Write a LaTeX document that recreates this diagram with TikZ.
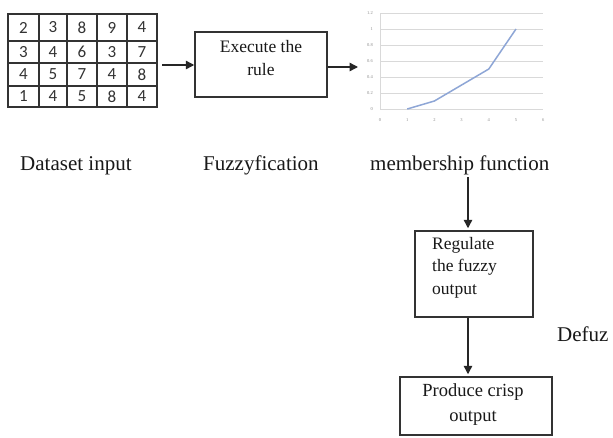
\documentclass[tikz,border=0pt]{standalone}
\usepackage{fontspec}
\setmainfont{Liberation Serif}
\newfontfamily\digitfont{Carlito}
\usetikzlibrary{arrows.meta}
\definecolor{inkgray}{HTML}{333333}
\definecolor{gridgray}{HTML}{D9D9D9}
\definecolor{curveblue}{HTML}{8EA6D6}
\tikzset{
  flowbox/.style={draw=inkgray, line width=1.5pt, inner sep=0pt},
  flowarrow/.style={draw=black!85, line width=1.4pt, -{Triangle[length=8.5pt,width=8.5pt]}},
  caption/.style={font=\fontsize{21}{23}\selectfont, text=black!90, inner sep=0pt, anchor=base west},
  boxtext/.style={font=\fontsize{17.5}{22.5}\selectfont, text=black!90, inner sep=0pt, align=center},
  cell/.style={font=\digitfont\fontsize{17}{17}\selectfont, text=black!80, inner sep=0pt},
  ticklabel/.style={font=\fontsize{4.5}{5}\selectfont, text=black!45, inner sep=0pt},
}
\begin{document}
\begin{tikzpicture}[x=1pt,y=-1pt]
\useasboundingbox (0,0) rectangle (613,437);
\fill[white] (0,0) rectangle (613,437);

% ---- data table ----
\node[flowbox, minimum width=149pt, minimum height=93pt] (grid) at (82.5,60.5) {};
\foreach \gx in {39,67,97,127} \draw[inkgray, line width=1.5pt] (\gx,14) -- (\gx,107);
\foreach \gy in {41,63,86} \draw[inkgray, line width=1.5pt] (8,\gy) -- (157,\gy);
\foreach \v/\cx in {2/23.5,3/53,8/82,9/112,4/142} \node[cell] (ra\v\cx) at (\cx,27.5) {\v};
\foreach \v/\cx in {3/23.5,4/53,6/82,3/112,7/142} \node[cell] (rb\v\cx) at (\cx,52) {\v};
\foreach \v/\cx in {4/23.5,5/53,7/82,4/112,8/142} \node[cell] (rc\v\cx) at (\cx,74.5) {\v};
\foreach \v/\cx in {1/23.5,4/53,5/82,8/112,4/142} \node[cell] (rd\v\cx) at (\cx,96.5) {\v};

% ---- rule box ----
\node[flowbox, minimum width=132pt, minimum height=65pt] (exec) at (261,64.5) {};
\node[boxtext] (exectxt) at (261,58) {Execute the\\rule};

% ---- membership chart ----
\foreach \k in {0,...,6} {
  \draw[gridgray, line width=0.6pt] (380,{109-\k*16}) -- (543,{109-\k*16});
}
\draw[gridgray, line width=0.6pt] (380,13) -- (380,109);
\foreach \lab/\k in {0/0,0.2/1,0.4/2,0.6/3,0.8/4,1/5,1.2/6} {
  \node[ticklabel, anchor=east] (yl\k) at (373,{109-\k*16}) {\lab};
}
\foreach \k in {0,...,6} {
  \node[ticklabel] (xl\k) at ({380+\k*27.2},120) {\k};
}
\draw[curveblue, line width=1.5pt, line join=round]
  ({380+1*27.2},{109-0*80}) -- ({380+2*27.2},{109-0.1*80}) --
  ({380+3*27.2},{109-0.3*80}) -- ({380+4*27.2},{109-0.5*80}) --
  ({380+5*27.2},{109-1*80});
\coordinate (chartin) at (358,67);

% ---- captions ----
\node[caption] (dsin) at (20,170) {Dataset input};
\node[caption] (fuzz) at (203,170) {Fuzzyfication};
\node[caption] (mf) at (370,170) {membership function};

% ---- lower boxes ----
\node[flowbox, minimum width=118pt, minimum height=86pt] (reg) at (474,274) {};
\node[boxtext, align=left, anchor=north west] (regtxt) at (432,237) {Regulate\\the fuzzy\\output};

\node[flowbox, minimum width=152pt, minimum height=58pt] (prod) at (476,406) {};
\node[boxtext, font=\fontsize{18.5}{25}\selectfont] (prodtxt) at (473,405) {Produce crisp\\output};

\node[caption] (defuz) at (557,341) {Defuz};

% ---- connectors ----
\coordinate (gridout) at (162,65);
\draw[flowarrow] (gridout) -- (gridout -| exec.west);
\draw[flowarrow] (exec.east |- chartin) -- (chartin);
\coordinate (mfout) at (468,177);
\draw[flowarrow, shorten >=2pt] (mfout) -- (mfout |- reg.north);
\draw[flowarrow, shorten >=2pt] (reg.south -| mfout) -- (mfout |- prod.north);
\end{tikzpicture}
\end{document}
